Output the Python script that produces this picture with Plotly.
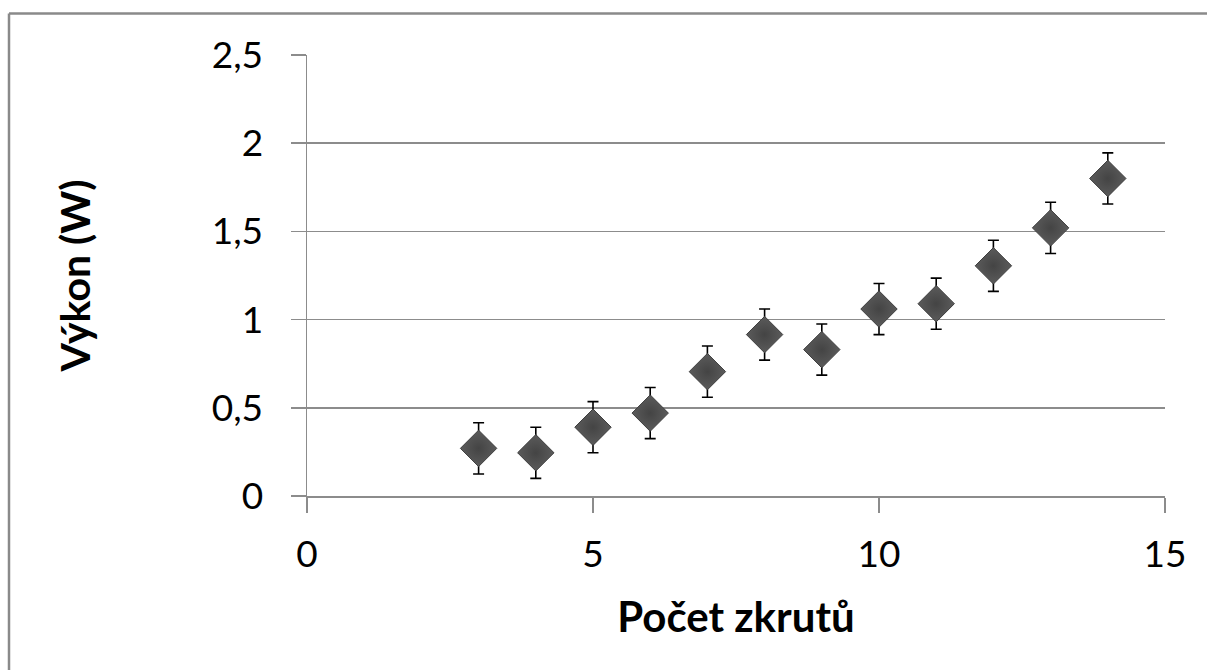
import plotly.graph_objects as go

zkruty = [3, 4, 5, 6, 7, 8, 9, 10, 11, 12, 13, 14]
vykon = [0.27, 0.245, 0.39, 0.47, 0.705, 0.915, 0.83, 1.06, 1.09, 1.305, 1.52, 1.80]
chyba = [0.145, 0.145, 0.145, 0.145, 0.145, 0.145, 0.145, 0.145, 0.145, 0.145, 0.145, 0.145]

x_ticks = [0, 5, 10, 15]
y_ticks = [0, 0.5, 1, 1.5, 2, 2.5]
y_tick_labels = ["0", "0,5", "1", "1,5", "2", "2,5"]

FONT = "Lato"
GRID = "#8c8c8c"

fig = go.Figure()
fig.add_trace(go.Scatter(
    x=zkruty, y=vykon, mode="markers",
    marker=dict(symbol="diamond", size=28, color="#5b5b5b",
                line=dict(color="#3e3e3e", width=1),
                gradient=dict(type="radial", color="#444444")),
    error_y=dict(type="data", array=chyba, visible=True,
                 color="black", thickness=1.6, width=5.5),
    showlegend=False,
))

fig.update_layout(
    width=1208, height=671,
    margin=dict(l=307, r=43, t=55, b=175),
    paper_bgcolor="white", plot_bgcolor="white",
    font=dict(family=FONT, size=37, color="black"),
    xaxis=dict(range=[0, 15], tickvals=x_ticks, ticktext=[str(v) for v in x_ticks],
               showgrid=False, zeroline=False, showline=True, linecolor=GRID, linewidth=1.5,
               ticks="outside", ticklen=15, tickcolor=GRID, tickwidth=1.5,
               ticklabelstandoff=10,
               title=dict(text="<b>Počet zkrutů</b>", font=dict(size=42), standoff=28)),
    yaxis=dict(range=[0, 2.5], tickvals=y_ticks, ticktext=y_tick_labels,
               showgrid=True, gridcolor=GRID, gridwidth=1.5, zeroline=False,
               showline=True, linecolor=GRID, linewidth=1.5,
               ticks="outside", ticklen=15, tickcolor=GRID, tickwidth=1.5,
               ticklabelstandoff=20,
               title=dict(text="<b>Výkon (W)</b>", font=dict(size=41), standoff=108)),
)

# outer chart-area border (top and left visible)
x_left = (9 - 307) / 858
x_right = (1207 - 307) / 858
y_top = (496 - 13.5) / 441
y_bottom = (496 - 670) / 441
fig.add_shape(type="line", xref="paper", yref="paper", x0=x_left, x1=x_right, y0=y_top, y1=y_top,
              line=dict(color="#8a8a8a", width=2.5))
fig.add_shape(type="line", xref="paper", yref="paper", x0=x_left, x1=x_left, y0=y_top, y1=y_bottom,
              line=dict(color="#8a8a8a", width=2.5))

fig.write_html(
    "out.html",
    config={"displayModeBar": False, "staticPlot": True},
    post_script="document.body.style.margin='0';document.body.style.overflow='hidden';",
)
